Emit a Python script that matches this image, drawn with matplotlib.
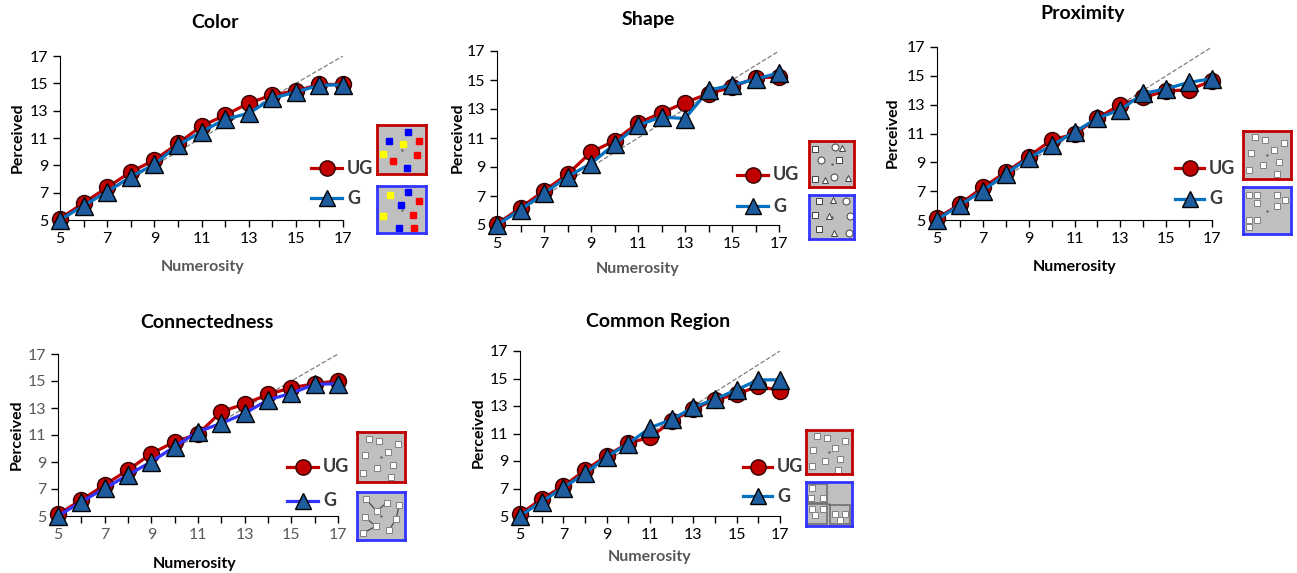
import numpy as np
import matplotlib
matplotlib.use("Agg")
import matplotlib.pyplot as plt
from matplotlib.lines import Line2D
from matplotlib.patches import Rectangle

plt.rcParams['font.family'] = ['Lato', 'DejaVu Sans']

W, H = 1297, 573

numerosity = list(range(5, 18))

color_ug = [5.1, 6.25, 7.38, 8.52, 9.38, 10.6, 11.87, 12.67, 13.55, 14.15, 14.45, 14.92, 14.92]
color_g = [5.0, 6.05, 7.07, 8.17, 9.07, 10.48, 11.45, 12.38, 12.8, 13.9, 14.37, 14.85, 14.9]

shape_ug = [5.07, 6.19, 7.36, 8.5, 10.02, 10.8, 12.04, 12.73, 13.44, 14.06, 14.5, 15.16, 15.2]
shape_g = [5.0, 6.05, 7.18, 8.33, 9.24, 10.57, 11.88, 12.45, 12.34, 14.3, 14.64, 15.05, 15.5]

prox_ug = [5.12, 6.1, 7.27, 8.31, 9.4, 10.56, 10.95, 12.07, 13.0, 13.5, 13.95, 14.03, 14.66]
prox_g = [5.02, 6.03, 7.03, 8.2, 9.29, 10.17, 11.1, 12.07, 12.64, 13.78, 14.1, 14.55, 14.8]

conn_ug = [5.12, 6.19, 7.3, 8.41, 9.62, 10.5, 11.07, 12.73, 13.3, 14.01, 14.5, 14.8, 15.02]
conn_g = [5.0, 6.05, 7.05, 8.04, 9.02, 10.14, 11.25, 11.86, 12.6, 13.6, 14.09, 14.75, 14.8]

cr_ug = [5.12, 6.26, 7.16, 8.33, 9.37, 10.32, 10.71, 11.9, 12.77, 13.45, 13.85, 14.45, 14.1]
cr_g = [5.0, 6.05, 7.06, 8.1, 9.3, 10.27, 11.41, 12.02, 12.9, 13.5, 14.18, 14.9, 14.9]

y_ticks = [5, 7, 9, 11, 13, 15, 17]
x_labels = ['5', '', '7', '', '9', '', '11', '', '13', '', '15', '', '17']

# little stimulus sketches next to each legend (unit box coords)
color_red_items = [(0.64, 0.85, 'blue'), (0.24, 0.68, 'blue'), (0.53, 0.62, 'yellow'), (0.86, 0.67, 'red'),
                   (0.12, 0.41, 'yellow'), (0.81, 0.39, 'red'), (0.32, 0.27, 'red'), (0.61, 0.12, 'blue')]
color_blue_items = [(0.27, 0.81, 'yellow'), (0.63, 0.87, 'blue'), (0.85, 0.69, 'red'), (0.49, 0.59, 'blue'),
                    (0.13, 0.36, 'yellow'), (0.73, 0.39, 'red'), (0.45, 0.11, 'blue'), (0.75, 0.11, 'red')]
shape_red_items = [(0.14, 0.82, 's'), (0.57, 0.86, 'o'), (0.74, 0.85, '^'), (0.27, 0.59, 'o'), (0.67, 0.59, 's'),
                   (0.14, 0.18, 's'), (0.35, 0.16, '^'), (0.56, 0.22, 'o'), (0.87, 0.20, '^')]
shape_blue_items = [(0.22, 0.87, 's'), (0.53, 0.88, '^'), (0.83, 0.87, 'o'), (0.14, 0.55, 's'), (0.44, 0.52, '^'),
                    (0.90, 0.52, 'o'), (0.23, 0.23, 's'), (0.56, 0.14, '^'), (0.88, 0.14, 'o')]
scatter_items = [(0.24, 0.87), (0.46, 0.82), (0.85, 0.76), (0.16, 0.55), (0.64, 0.60),
                 (0.74, 0.35), (0.42, 0.29), (0.13, 0.18), (0.70, 0.10)]
prox_blue_items = [(0.13, 0.83), (0.29, 0.83), (0.70, 0.83), (0.87, 0.72), (0.29, 0.66),
                   (0.70, 0.60), (0.13, 0.30), (0.29, 0.30), (0.13, 0.14)]
conn_blue_items = [(0.18, 0.86), (0.41, 0.60), (0.62, 0.78), (0.88, 0.72), (0.81, 0.43),
                   (0.67, 0.21), (0.16, 0.48), (0.39, 0.29), (0.13, 0.14)]
conn_links = [(0, 1), (1, 2), (3, 4), (4, 5), (6, 7), (7, 8)]
cr_blue_items = [(0.12, 0.86), (0.11, 0.64), (0.36, 0.64), (0.14, 0.39), (0.36, 0.38),
                 (0.19, 0.24), (0.63, 0.28), (0.84, 0.28), (0.73, 0.14)]
cr_regions = [(0.03, 0.52, 0.43, 0.44), (0.03, 0.05, 0.43, 0.45), (0.52, 0.05, 0.44, 0.42)]

RED = '#C00000'
BLUE = '#0070C0'
TRI = '#1F5C9E'
GREY = '#595959'


def box(x0, y0, x1, y1):
    return [x0 / W, 1 - y1 / H, (x1 - x0) / W, (y1 - y0) / H]


def fx(x):
    return x / W


def fy(y):
    return 1 - y / H


fig = plt.figure(figsize=(W / 100, H / 100), dpi=100)

panels = [
    # title, ug, g, axes px, title px, xlabel px, ylabel px, legend px, tick colour, xlabel colour, g line colour
    ('Color', color_ug, color_g, (60, 56, 343, 220), (215, 23), (203, 267), (18, 138), (311, 342, 168, 198),
     'black', GREY, BLUE),
    ('Shape', shape_ug, shape_g, (497, 51, 779, 225), (648, 19), (638, 269), (458, 138), (737, 768, 175, 206),
     'black', GREY, BLUE),
    ('Proximity', prox_ug, prox_g, (937, 47, 1212, 220), (1083, 14), (1075, 267), (893, 133), (1175, 1204, 168, 199),
     'black', 'black', BLUE),
    ('Connectedness', conn_ug, conn_g, (58, 354, 338, 516), (207, 323), (195, 564), (17, 435), (287, 318, 467, 501),
     GREY, 'black', '#3333FF'),
    ('Common Region', cr_ug, cr_g, (520, 351, 780, 516), (658, 322), (650, 557), (479, 433), (743, 772, 467, 496),
     'black', GREY, BLUE),
]

for title, ug, g, abox, tpos, xlpos, ylpos, leg, tcol, xlcol, gcol in panels:
    ax = fig.add_axes(box(*abox))
    ax.plot([5, 17], [5, 17], ls='--', color='#808080', lw=0.9, zorder=1)
    ax.plot(numerosity, ug, color=RED, lw=2.3, marker='o', ms=11.5, mfc=RED, mec='#300000', mew=1.0,
            clip_on=False, zorder=3)
    ax.plot(numerosity, g, color=gcol, lw=2.3, marker='^', ms=12.5, mfc=TRI, mec='black', mew=1.0,
            clip_on=False, zorder=4)
    ax.set_xlim(5, 17)
    ax.set_ylim(5, 17)
    ax.set_xticks(numerosity)
    ax.set_xticklabels(x_labels)
    ax.set_yticks(y_ticks)
    ax.spines['top'].set_visible(False)
    ax.spines['right'].set_visible(False)
    ax.tick_params(direction='out', length=5, width=1, labelsize=11.5, colors='black', labelcolor=tcol)
    ax.set_facecolor('none')

    fig.text(fx(tpos[0]), fy(tpos[1]), title, ha='center', va='center', fontsize=14, fontweight='bold')
    fig.text(fx(xlpos[0]), fy(xlpos[1]), 'Numerosity', ha='center', va='center', fontsize=11.5,
             fontweight='bold', color=xlcol)
    fig.text(fx(ylpos[0]), fy(ylpos[1]), 'Perceived', ha='center', va='center', fontsize=11.5,
             fontweight='bold', rotation=90)

    # legend drawn by hand
    lx0, lx1, ly_ug, ly_g = leg
    xs = [fx(lx0), fx((lx0 + lx1) / 2), fx(lx1)]
    fig.add_artist(Line2D(xs, [fy(ly_ug)] * 3, color=RED, lw=2.3, marker='o', ms=11, mfc=RED,
                          mec='#300000', markevery=[1], transform=fig.transFigure))
    fig.add_artist(Line2D(xs, [fy(ly_g)] * 3, color=gcol, lw=2.3, marker='^', ms=12, mfc=TRI,
                          mec='black', markevery=[1], transform=fig.transFigure))
    fig.text(fx(lx1 + 5), fy(ly_ug), 'UG', ha='left', va='center', fontsize=13, fontweight='bold', color='#3a3a3a')
    fig.text(fx(lx1 + 5), fy(ly_g), 'G', ha='left', va='center', fontsize=13, fontweight='bold', color='#3a3a3a')

insets = [
    ((377, 125, 426, 174), RED, 'color', color_red_items),
    ((377, 186, 426, 233), '#3333FF', 'color', color_blue_items),
    ((809, 141, 854, 187), RED, 'shape', shape_red_items),
    ((809, 195, 854, 239), '#3333FF', 'shape', shape_blue_items),
    ((1243, 131, 1291, 179), RED, 'plain', scatter_items),
    ((1243, 187, 1291, 234), '#3333FF', 'plain', prox_blue_items),
    ((357, 432, 405, 482), RED, 'plain', scatter_items),
    ((357, 492, 405, 540), '#3333FF', 'conn', conn_blue_items),
    ((806, 430, 852, 474), RED, 'plain', scatter_items),
    ((806, 482, 852, 526), '#3333FF', 'region', cr_blue_items),
]

for ibox, ecol, kind, items in insets:
    iax = fig.add_axes(box(*ibox))
    iax.set_facecolor('#BFBFBF')
    iax.set_xlim(0, 1)
    iax.set_ylim(0, 1)
    iax.set_xticks([])
    iax.set_yticks([])
    for sp in iax.spines.values():
        sp.set_color(ecol)
        sp.set_linewidth(2)
    iax.plot(0.5, 0.5, marker='.', ms=1.5, color='#606060')
    if kind == 'color':
        for x, y, c in items:
            iax.plot(x, y, marker='s', ms=5, color=c, mec=c)
    elif kind == 'shape':
        for x, y, m in items:
            iax.plot(x, y, marker=m, ms=5, mfc='white', mec='#404040', mew=0.7)
    else:
        if kind == 'conn':
            for a, b in conn_links:
                iax.plot([items[a][0], items[b][0]], [items[a][1], items[b][1]], color='#404040', lw=0.8)
        if kind == 'region':
            for rx, ry, rw, rh in cr_regions:
                iax.add_patch(Rectangle((rx, ry), rw, rh, fill=False, ec='#707070', lw=1.2))
        for x, y in items:
            iax.plot(x, y, marker='s', ms=4.5, mfc='white', mec='#808080', mew=0.7)

fig.savefig('out.png', dpi=100)
